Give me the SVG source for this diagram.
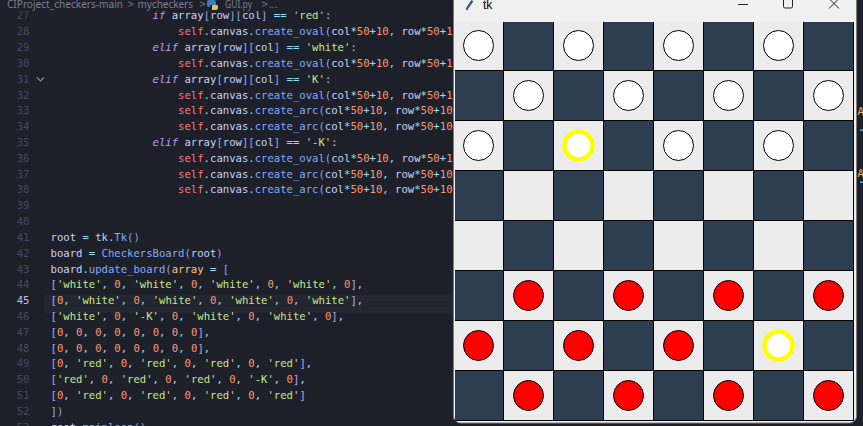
<svg xmlns="http://www.w3.org/2000/svg" width="863" height="426" viewBox="0 0 863 426">
<defs>
<style>
.code{font-family:"DejaVu Sans Mono","Liberation Mono",monospace;font-size:10.6px;white-space:pre;fill:#c8d3f5}
.ln{font-family:"DejaVu Sans Mono","Liberation Mono",monospace;font-size:10.6px;fill:#444a62;text-anchor:end}
.k{fill:#c099ff;font-style:italic}
.v{fill:#c8d3f5}
.s{fill:#ff757f}
.f{fill:#82aaff}
.o{fill:#86e1fc}
.n{fill:#ff966c}
.g{fill:#c3e88d}
.b{fill:#82aaff}
.p{fill:#b0a4f0}
.a{fill:#ffc777}
.c{fill:#9aa5ce}
.crumb{font-family:"Noto Sans","Liberation Sans",sans-serif;font-size:11.5px;fill:#7a7f96}
.dark{fill:#2c3e50}
.pw{fill:#ffffff;stroke:#000;stroke-width:1}
.pr{fill:#ff0000;stroke:#000;stroke-width:1}
.py{fill:#ffffff;stroke:#ffff00;stroke-width:4.5}
</style>
<clipPath id="cv"><rect x="455" y="22" width="399" height="399.5"/></clipPath>
</defs>

<!-- editor background -->
<rect x="0" y="0" width="863" height="426" fill="#1e2029"/>
<rect x="45" y="296" width="408" height="16" fill="#23252f" stroke="#2a2d3a" stroke-width="1"/>

<g id="line-numbers">
<text class="ln" x="29.5" y="19.4">27</text>
<text class="ln" x="29.5" y="35.22">28</text>
<text class="ln" x="29.5" y="51.04">29</text>
<text class="ln" x="29.5" y="66.86">30</text>
<text class="ln" x="29.5" y="82.68">31</text>
<text class="ln" x="29.5" y="98.5">32</text>
<text class="ln" x="29.5" y="114.32">33</text>
<text class="ln" x="29.5" y="130.14">34</text>
<text class="ln" x="29.5" y="145.96">35</text>
<text class="ln" x="29.5" y="161.78">36</text>
<text class="ln" x="29.5" y="177.6">37</text>
<text class="ln" x="29.5" y="193.42">38</text>
<text class="ln" x="29.5" y="209.24">39</text>
<text class="ln" x="29.5" y="225.06">40</text>
<text class="ln" x="29.5" y="240.88">41</text>
<text class="ln" x="29.5" y="256.7">42</text>
<text class="ln" x="29.5" y="272.52">43</text>
<text class="ln" x="29.5" y="288.34">44</text>
<text class="ln" x="29.5" y="304.16" style="fill:#c0c6dc">45</text>
<text class="ln" x="29.5" y="319.98">46</text>
<text class="ln" x="29.5" y="335.8">47</text>
<text class="ln" x="29.5" y="351.62">48</text>
<text class="ln" x="29.5" y="367.44">49</text>
<text class="ln" x="29.5" y="383.26">50</text>
<text class="ln" x="29.5" y="399.08">51</text>
<text class="ln" x="29.5" y="414.9">52</text>
<text class="ln" x="29.5" y="430.72">53</text>
<polyline points="37,77.5 40.5,81 44,77.5" fill="none" stroke="#8a8fa6" stroke-width="1.1"/>
</g>

<g id="code">
<text class="code" x="152.6" y="19.4"><tspan class="k">if</tspan> array<tspan class="b">[</tspan>row<tspan class="b">][</tspan>col<tspan class="b">]</tspan><tspan class="o"> == </tspan><tspan class="g">'red'</tspan><tspan class="o">:</tspan></text>
<text class="code" x="178.1" y="35.22"><tspan class="s">self</tspan><tspan class="o">.</tspan>canvas<tspan class="o">.</tspan><tspan class="f">create_oval</tspan><tspan class="b">(</tspan>col<tspan class="o">*</tspan><tspan class="n">50</tspan><tspan class="o">+</tspan><tspan class="n">10</tspan><tspan class="o">,</tspan> row<tspan class="o">*</tspan><tspan class="n">50</tspan><tspan class="o">+</tspan><tspan class="n">1</tspan></text>
<text class="code" x="152.6" y="51.04"><tspan class="k">elif</tspan> array<tspan class="b">[</tspan>row<tspan class="b">][</tspan>col<tspan class="b">]</tspan><tspan class="o"> == </tspan><tspan class="g">'white'</tspan><tspan class="o">:</tspan></text>
<text class="code" x="178.1" y="66.86"><tspan class="s">self</tspan><tspan class="o">.</tspan>canvas<tspan class="o">.</tspan><tspan class="f">create_oval</tspan><tspan class="b">(</tspan>col<tspan class="o">*</tspan><tspan class="n">50</tspan><tspan class="o">+</tspan><tspan class="n">10</tspan><tspan class="o">,</tspan> row<tspan class="o">*</tspan><tspan class="n">50</tspan><tspan class="o">+</tspan><tspan class="n">1</tspan></text>
<text class="code" x="152.6" y="82.68"><tspan class="k">elif</tspan> array<tspan class="b">[</tspan>row<tspan class="b">][</tspan>col<tspan class="b">]</tspan><tspan class="o"> == </tspan><tspan class="g">'K'</tspan><tspan class="o">:</tspan></text>
<text class="code" x="178.1" y="98.5"><tspan class="s">self</tspan><tspan class="o">.</tspan>canvas<tspan class="o">.</tspan><tspan class="f">create_oval</tspan><tspan class="b">(</tspan>col<tspan class="o">*</tspan><tspan class="n">50</tspan><tspan class="o">+</tspan><tspan class="n">10</tspan><tspan class="o">,</tspan> row<tspan class="o">*</tspan><tspan class="n">50</tspan><tspan class="o">+</tspan><tspan class="n">1</tspan></text>
<text class="code" x="178.1" y="114.32"><tspan class="s">self</tspan><tspan class="o">.</tspan>canvas<tspan class="o">.</tspan><tspan class="f">create_arc</tspan><tspan class="b">(</tspan>col<tspan class="o">*</tspan><tspan class="n">50</tspan><tspan class="o">+</tspan><tspan class="n">10</tspan><tspan class="o">,</tspan> row<tspan class="o">*</tspan><tspan class="n">50</tspan><tspan class="o">+</tspan><tspan class="n">10</tspan></text>
<text class="code" x="178.1" y="130.14"><tspan class="s">self</tspan><tspan class="o">.</tspan>canvas<tspan class="o">.</tspan><tspan class="f">create_arc</tspan><tspan class="b">(</tspan>col<tspan class="o">*</tspan><tspan class="n">50</tspan><tspan class="o">+</tspan><tspan class="n">10</tspan><tspan class="o">,</tspan> row<tspan class="o">*</tspan><tspan class="n">50</tspan><tspan class="o">+</tspan><tspan class="n">10</tspan></text>
<text class="code" x="152.6" y="145.96"><tspan class="k">elif</tspan> array<tspan class="b">[</tspan>row<tspan class="b">][</tspan>col<tspan class="b">]</tspan><tspan class="o"> == </tspan><tspan class="g">'-K'</tspan><tspan class="o">:</tspan></text>
<text class="code" x="178.1" y="161.78"><tspan class="s">self</tspan><tspan class="o">.</tspan>canvas<tspan class="o">.</tspan><tspan class="f">create_oval</tspan><tspan class="b">(</tspan>col<tspan class="o">*</tspan><tspan class="n">50</tspan><tspan class="o">+</tspan><tspan class="n">10</tspan><tspan class="o">,</tspan> row<tspan class="o">*</tspan><tspan class="n">50</tspan><tspan class="o">+</tspan><tspan class="n">1</tspan></text>
<text class="code" x="178.1" y="177.6"><tspan class="s">self</tspan><tspan class="o">.</tspan>canvas<tspan class="o">.</tspan><tspan class="f">create_arc</tspan><tspan class="b">(</tspan>col<tspan class="o">*</tspan><tspan class="n">50</tspan><tspan class="o">+</tspan><tspan class="n">10</tspan><tspan class="o">,</tspan> row<tspan class="o">*</tspan><tspan class="n">50</tspan><tspan class="o">+</tspan><tspan class="n">10</tspan></text>
<text class="code" x="178.1" y="193.42"><tspan class="s">self</tspan><tspan class="o">.</tspan>canvas<tspan class="o">.</tspan><tspan class="f">create_arc</tspan><tspan class="b">(</tspan>col<tspan class="o">*</tspan><tspan class="n">50</tspan><tspan class="o">+</tspan><tspan class="n">10</tspan><tspan class="o">,</tspan> row<tspan class="o">*</tspan><tspan class="n">50</tspan><tspan class="o">+</tspan><tspan class="n">10</tspan></text>
<text class="code" x="50.5" y="240.88">root<tspan class="o"> = </tspan>tk<tspan class="o">.</tspan><tspan class="f">Tk</tspan><tspan class="c">()</tspan></text>
<text class="code" x="50.5" y="256.7">board<tspan class="o"> = </tspan><tspan class="f">CheckersBoard</tspan><tspan class="c">(</tspan>root<tspan class="c">)</tspan></text>
<text class="code" x="50.5" y="272.52">board<tspan class="o">.</tspan><tspan class="f">update_board</tspan><tspan class="c">(</tspan><tspan class="a">array</tspan><tspan class="o"> = </tspan><tspan class="b">[</tspan></text>
<text class="code" x="50.5" y="288.34"><tspan class="p">[</tspan><tspan class="g">'white'</tspan><tspan class="o">, </tspan><tspan class="n">0</tspan><tspan class="o">, </tspan><tspan class="g">'white'</tspan><tspan class="o">, </tspan><tspan class="n">0</tspan><tspan class="o">, </tspan><tspan class="g">'white'</tspan><tspan class="o">, </tspan><tspan class="n">0</tspan><tspan class="o">, </tspan><tspan class="g">'white'</tspan><tspan class="o">, </tspan><tspan class="n">0</tspan><tspan class="p">]</tspan><tspan class="o">,</tspan></text>
<text class="code" x="50.5" y="304.16"><tspan class="p">[</tspan><tspan class="n">0</tspan><tspan class="o">, </tspan><tspan class="g">'white'</tspan><tspan class="o">, </tspan><tspan class="n">0</tspan><tspan class="o">, </tspan><tspan class="g">'white'</tspan><tspan class="o">, </tspan><tspan class="n">0</tspan><tspan class="o">, </tspan><tspan class="g">'white'</tspan><tspan class="o">, </tspan><tspan class="n">0</tspan><tspan class="o">, </tspan><tspan class="g">'white'</tspan><tspan class="p">]</tspan><tspan class="o">,</tspan></text>
<text class="code" x="50.5" y="319.98"><tspan class="p">[</tspan><tspan class="g">'white'</tspan><tspan class="o">, </tspan><tspan class="n">0</tspan><tspan class="o">, </tspan><tspan class="g">'-K'</tspan><tspan class="o">, </tspan><tspan class="n">0</tspan><tspan class="o">, </tspan><tspan class="g">'white'</tspan><tspan class="o">, </tspan><tspan class="n">0</tspan><tspan class="o">, </tspan><tspan class="g">'white'</tspan><tspan class="o">, </tspan><tspan class="n">0</tspan><tspan class="p">]</tspan><tspan class="o">,</tspan></text>
<text class="code" x="50.5" y="335.8"><tspan class="p">[</tspan><tspan class="n">0</tspan><tspan class="o">, </tspan><tspan class="n">0</tspan><tspan class="o">, </tspan><tspan class="n">0</tspan><tspan class="o">, </tspan><tspan class="n">0</tspan><tspan class="o">, </tspan><tspan class="n">0</tspan><tspan class="o">, </tspan><tspan class="n">0</tspan><tspan class="o">, </tspan><tspan class="n">0</tspan><tspan class="o">, </tspan><tspan class="n">0</tspan><tspan class="p">]</tspan><tspan class="o">,</tspan></text>
<text class="code" x="50.5" y="351.62"><tspan class="p">[</tspan><tspan class="n">0</tspan><tspan class="o">, </tspan><tspan class="n">0</tspan><tspan class="o">, </tspan><tspan class="n">0</tspan><tspan class="o">, </tspan><tspan class="n">0</tspan><tspan class="o">, </tspan><tspan class="n">0</tspan><tspan class="o">, </tspan><tspan class="n">0</tspan><tspan class="o">, </tspan><tspan class="n">0</tspan><tspan class="o">, </tspan><tspan class="n">0</tspan><tspan class="p">]</tspan><tspan class="o">,</tspan></text>
<text class="code" x="50.5" y="367.44"><tspan class="p">[</tspan><tspan class="n">0</tspan><tspan class="o">, </tspan><tspan class="g">'red'</tspan><tspan class="o">, </tspan><tspan class="n">0</tspan><tspan class="o">, </tspan><tspan class="g">'red'</tspan><tspan class="o">, </tspan><tspan class="n">0</tspan><tspan class="o">, </tspan><tspan class="g">'red'</tspan><tspan class="o">, </tspan><tspan class="n">0</tspan><tspan class="o">, </tspan><tspan class="g">'red'</tspan><tspan class="p">]</tspan><tspan class="o">,</tspan></text>
<text class="code" x="50.5" y="383.26"><tspan class="p">[</tspan><tspan class="g">'red'</tspan><tspan class="o">, </tspan><tspan class="n">0</tspan><tspan class="o">, </tspan><tspan class="g">'red'</tspan><tspan class="o">, </tspan><tspan class="n">0</tspan><tspan class="o">, </tspan><tspan class="g">'red'</tspan><tspan class="o">, </tspan><tspan class="n">0</tspan><tspan class="o">, </tspan><tspan class="g">'-K'</tspan><tspan class="o">, </tspan><tspan class="n">0</tspan><tspan class="p">]</tspan><tspan class="o">,</tspan></text>
<text class="code" x="50.5" y="399.08"><tspan class="p">[</tspan><tspan class="n">0</tspan><tspan class="o">, </tspan><tspan class="g">'red'</tspan><tspan class="o">, </tspan><tspan class="n">0</tspan><tspan class="o">, </tspan><tspan class="g">'red'</tspan><tspan class="o">, </tspan><tspan class="n">0</tspan><tspan class="o">, </tspan><tspan class="g">'red'</tspan><tspan class="o">, </tspan><tspan class="n">0</tspan><tspan class="o">, </tspan><tspan class="g">'red'</tspan><tspan class="p">]</tspan></text>
<text class="code" x="50.5" y="414.9"><tspan class="b">]</tspan><tspan class="c">)</tspan></text>
<text class="code" x="50.5" y="430.72">root<tspan class="o">.</tspan><tspan class="f">mainloop</tspan><tspan class="c">()</tspan></text>
<text class="code" x="857.5" y="115" style="fill:#e0af68">A</text>
<text class="code" x="857.5" y="177" style="fill:#e0af68">A</text>
<rect x="860" y="129.5" width="3" height="1.3" fill="#65bcff"/>
<rect x="860" y="181.5" width="3" height="1.3" fill="#65bcff"/>
</g>

<g id="breadcrumb">
<rect x="0" y="0" width="453" height="11.5" fill="#1e2029"/>
<text class="crumb" x="7" y="8" textLength="116" lengthAdjust="spacingAndGlyphs">CIProject_checkers-main</text>
<text class="crumb" x="127.5" y="8">&gt;</text>
<text class="crumb" x="137.5" y="8" textLength="55.5" lengthAdjust="spacingAndGlyphs">mycheckers</text>
<text class="crumb" x="199.5" y="8">&gt;</text>
<path d="M209,0 h5 a2,2 0 0 1 2,2 v3 h-6 v2 h-2 a2,2 0 0 1 -1,-2 v-3 a2,2 0 0 1 2,-2z" fill="#3d7ab8"/>
<path d="M212,5 h5 a1.5,1.5 0 0 1 1,1.5 v1.5 a2,2 0 0 1 -2,2 h-4z" fill="#e5c34f"/>
<text class="crumb" x="225" y="8" textLength="27" lengthAdjust="spacingAndGlyphs">GUI.py</text>
<text class="crumb" x="261.5" y="8">&gt;</text>
<text class="crumb" x="269" y="8" textLength="8.5" lengthAdjust="spacingAndGlyphs">...</text>
</g>

<g id="tk-window">
<rect x="453.5" y="-10" width="403" height="433" rx="7" fill="#f0f0f0" stroke="#7d7d7d" stroke-width="1"/>
<path d="M471.5,0.5 C469.5,3 467.5,6 466,9.5 L467,10 C469,7 471,4 473,1.5 Z" fill="#2f5aa0" stroke="#1e3d70" stroke-width="0.6"/>
<text x="483" y="9" style="font-family:'Liberation Sans',sans-serif;font-size:12px;fill:#000">tk</text>
<line x1="738" y1="4.5" x2="748" y2="4.5" stroke="#222" stroke-width="1"/>
<rect x="783.5" y="-1.5" width="9" height="9.5" rx="1.5" fill="none" stroke="#222" stroke-width="1"/>
<path d="M829,-1.5 L839,8.5 M839,-1.5 L829,8.5" stroke="#222" stroke-width="1"/>
</g>

<g id="board" clip-path="url(#cv)">
<rect x="453.5" y="20.5" width="400" height="400" fill="#ececec"/>
<g class="dark">
<rect x="503.5" y="20.5" width="50" height="50"/><rect x="603.5" y="20.5" width="50" height="50"/><rect x="703.5" y="20.5" width="50" height="50"/><rect x="803.5" y="20.5" width="50" height="50"/>
<rect x="453.5" y="70.5" width="50" height="50"/><rect x="553.5" y="70.5" width="50" height="50"/><rect x="653.5" y="70.5" width="50" height="50"/><rect x="753.5" y="70.5" width="50" height="50"/>
<rect x="503.5" y="120.5" width="50" height="50"/><rect x="603.5" y="120.5" width="50" height="50"/><rect x="703.5" y="120.5" width="50" height="50"/><rect x="803.5" y="120.5" width="50" height="50"/>
<rect x="453.5" y="170.5" width="50" height="50"/><rect x="553.5" y="170.5" width="50" height="50"/><rect x="653.5" y="170.5" width="50" height="50"/><rect x="753.5" y="170.5" width="50" height="50"/>
<rect x="503.5" y="220.5" width="50" height="50"/><rect x="603.5" y="220.5" width="50" height="50"/><rect x="703.5" y="220.5" width="50" height="50"/><rect x="803.5" y="220.5" width="50" height="50"/>
<rect x="453.5" y="270.5" width="50" height="50"/><rect x="553.5" y="270.5" width="50" height="50"/><rect x="653.5" y="270.5" width="50" height="50"/><rect x="753.5" y="270.5" width="50" height="50"/>
<rect x="503.5" y="320.5" width="50" height="50"/><rect x="603.5" y="320.5" width="50" height="50"/><rect x="703.5" y="320.5" width="50" height="50"/><rect x="803.5" y="320.5" width="50" height="50"/>
<rect x="453.5" y="370.5" width="50" height="50"/><rect x="553.5" y="370.5" width="50" height="50"/><rect x="653.5" y="370.5" width="50" height="50"/><rect x="753.5" y="370.5" width="50" height="50"/>
</g>
<path d="M503.5,20 V421 M553.5,20 V421 M603.5,20 V421 M653.5,20 V421 M703.5,20 V421 M753.5,20 V421 M803.5,20 V421 M853.5,20 V421 M453,70.5 H854 M453,120.5 H854 M453,170.5 H854 M453,220.5 H854 M453,270.5 H854 M453,320.5 H854 M453,370.5 H854 M453,420.5 H854" stroke="#000" stroke-width="1" fill="none"/>
</g>

<g id="pieces">
<circle class="pw" cx="478.5" cy="45.5" r="15"/><circle class="pw" cx="578.5" cy="45.5" r="15"/><circle class="pw" cx="678.5" cy="45.5" r="15"/><circle class="pw" cx="778.5" cy="45.5" r="15"/>
<circle class="pw" cx="528.5" cy="95.5" r="15"/><circle class="pw" cx="628.5" cy="95.5" r="15"/><circle class="pw" cx="728.5" cy="95.5" r="15"/><circle class="pw" cx="828.5" cy="95.5" r="15"/>
<circle class="pw" cx="478.5" cy="145.5" r="15"/><circle class="py" cx="578.5" cy="145.5" r="14"/><circle class="pw" cx="678.5" cy="145.5" r="15"/><circle class="pw" cx="778.5" cy="145.5" r="15"/>
<circle class="pr" cx="528.5" cy="295.5" r="15"/><circle class="pr" cx="628.5" cy="295.5" r="15"/><circle class="pr" cx="728.5" cy="295.5" r="15"/><circle class="pr" cx="828.5" cy="295.5" r="15"/>
<circle class="pr" cx="478.5" cy="345.5" r="15"/><circle class="pr" cx="578.5" cy="345.5" r="15"/><circle class="pr" cx="678.5" cy="345.5" r="15"/><circle class="py" cx="778.5" cy="345.5" r="14"/>
<circle class="pr" cx="528.5" cy="395.5" r="15"/><circle class="pr" cx="628.5" cy="395.5" r="15"/><circle class="pr" cx="728.5" cy="395.5" r="15"/><circle class="pr" cx="828.5" cy="395.5" r="15"/>
</g>
</svg>
